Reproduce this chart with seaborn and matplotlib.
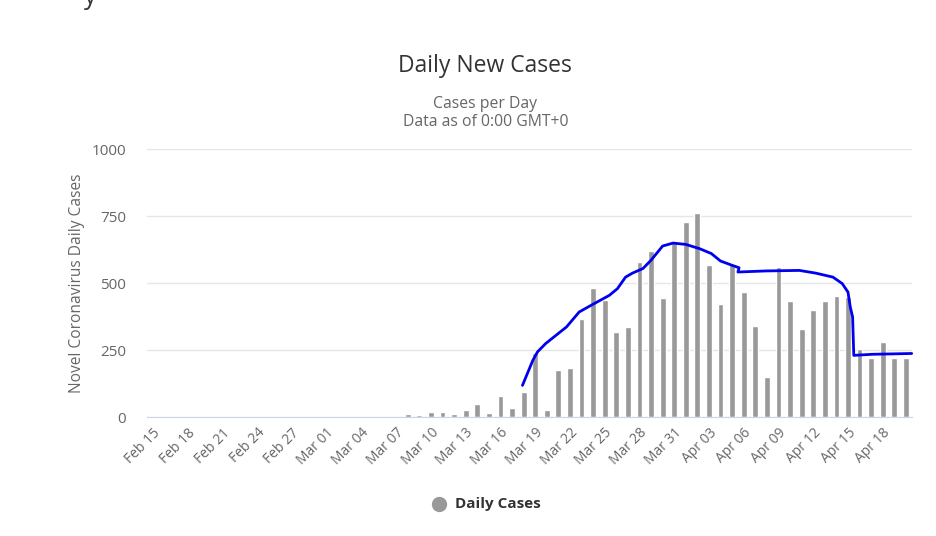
import numpy as np
import pandas as pd
import seaborn as sns
import matplotlib.pyplot as plt

# Daily new cases, Feb 15 .. Apr 20
dates = pd.date_range("2020-02-15", "2020-04-20", freq="D")
cases = [0] * 22 + [
    10, 6, 17, 17, 10, 27, 47, 14, 80, 34, 93, 239, 25, 174, 183, 366,
    481, 435, 318, 337, 579, 620, 444, 658, 729, 761, 566, 421, 572, 466,
    340, 149, 560, 433, 330, 398, 433, 451, 448, 253, 220, 279, 220, 220,
]
labels = [d.strftime("%b %d") for d in dates]

# hand-drawn blue trend line (x = day index from Feb 15)
trend_x = [31.9, 32.8, 33.2, 33.9, 35.7, 36.8, 38.0, 39.4, 40.1, 40.8, 41.4,
           42.3, 43.0, 44.0, 44.9, 46.0, 47.2, 48.2, 49.0, 50.0, 50.6, 50.5,
           52.9, 55.8, 57.2, 58.7, 59.5, 60.0, 60.2, 60.4, 60.5, 62.1, 65.5]
trend_y = [118, 212, 243, 274, 336, 392, 421, 454, 479, 522, 537,
           554, 585, 638, 649, 644, 628, 610, 582, 566, 557, 541,
           545, 547, 537, 522, 498, 466, 410, 373, 230, 234, 237]

df = pd.DataFrame({"date": labels, "cases": cases})

sns.set_style("white")
plt.rcParams["font.family"] = ["Open Sans", "DejaVu Sans"]

fig = plt.figure(figsize=(9.37, 5.36), dpi=100)
ax = fig.add_axes([0.157, 0.222, 0.816, 0.500])

sns.barplot(data=df, x="date", y="cases", color="#999999", width=0.5,
            saturation=1, ax=ax, zorder=2)
ax.plot(trend_x, trend_y, color="#0000ee", lw=2, zorder=3, clip_on=False)

ax.set_xlim(-0.5, 65.5)
ax.set_ylim(0, 1000)
ax.set_yticks([0, 250, 500, 750, 1000])
ax.grid(axis="y", color="#e6e6e6", lw=1, zorder=0)
for s in ["left", "right", "top"]:
    ax.spines[s].set_visible(False)
ax.spines["bottom"].set_color("#ccd6eb")

ticks = np.arange(0, len(labels), 3)
ax.set_xticks(ticks)
ax.set_xticklabels([labels[i] for i in ticks], rotation=45, ha="right",
                   rotation_mode="anchor", fontsize=10, color="#666666")
ax.tick_params(axis="y", labelsize=11, labelcolor="#666666", length=0, pad=15)
ax.tick_params(axis="x", length=0, pad=6)

ax.set_xlabel("")
ax.set_ylabel("Novel Coronavirus Daily Cases", fontsize=11.2, color="#666666",
              labelpad=5)

fig.text(0.518, 0.865, "Daily New Cases", ha="center", fontsize=16.5, color="#333333")
fig.text(0.518, 0.765, "Cases per Day\nData as of 0:00 GMT+0", ha="center",
         fontsize=11.3, color="#666666", linespacing=1.2)
# cut-off heading glyph at the very top
fig.text(0.09, 0.992, "y", fontsize=18, color="#333333", va="baseline")

# legend
fig.text(0.486, 0.059, "Daily Cases", fontsize=11, fontweight="bold",
         color="#333333", va="center")
fig.lines.append(plt.Line2D([0.468], [0.059], marker="o", markersize=10,
                            color="#999999", transform=fig.transFigure))

fig.savefig("out.png", dpi=100)
